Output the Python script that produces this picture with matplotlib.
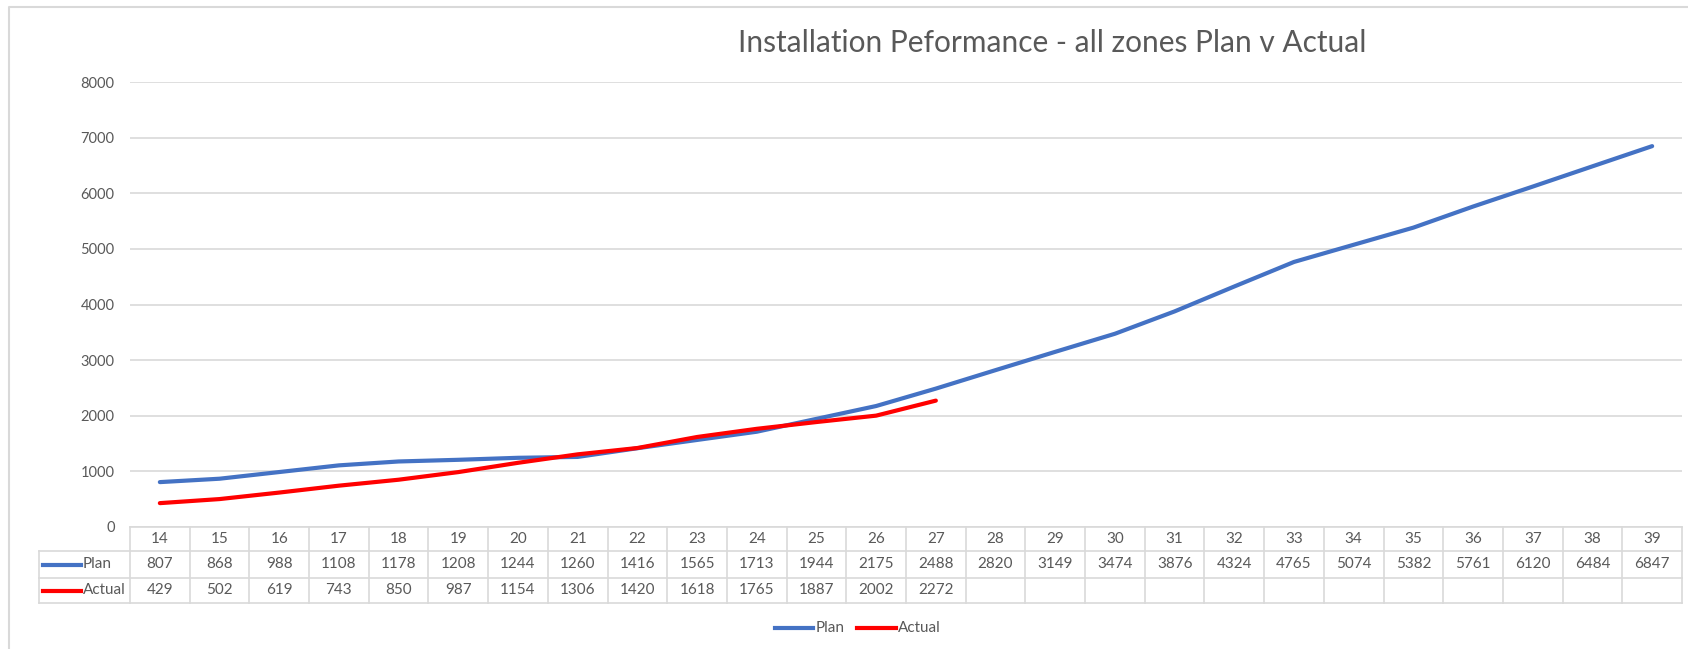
import matplotlib.pyplot as plt
import numpy as np

plt.rcParams['font.family'] = ['Lato', 'DejaVu Sans']

weeks = [14, 15, 16, 17, 18, 19, 20, 21, 22, 23, 24, 25, 26,
         27, 28, 29, 30, 31, 32, 33, 34, 35, 36, 37, 38, 39]
plan = [807, 868, 988, 1108, 1178, 1208, 1244, 1260, 1416, 1565, 1713, 1944, 2175,
        2488, 2820, 3149, 3474, 3876, 4324, 4765, 5074, 5382, 5761, 6120, 6484, 6847]
actual = [429, 502, 619, 743, 850, 987, 1154, 1306, 1420, 1618, 1765, 1887, 2002, 2272]

colPlan = '#4472C4'
colActual = '#FF0000'
textCol = '#595959'
gridCol = '#D9D9D9'

W, H = 1688, 649
fig = plt.figure(figsize=(W / 100, H / 100), dpi=100)

# chart border (only top and left edges are inside the picture)
fig.lines.append(plt.Line2D([9 / W, 9 / W, 1], [0, 1 - 7 / H, 1 - 7 / H],
                            transform=fig.transFigure, color='#D9D9D9', lw=1.5))

left, right = 130, 1682
top, bot = 82, 527
ax = fig.add_axes([left / W, (H - bot) / H, (right - left) / W, (bot - top) / H])

n = len(weeks)
x = np.arange(n)
ax.plot(x, plan, color=colPlan, lw=3, solid_capstyle='round')
ax.plot(x[:len(actual)], actual, color=colActual, lw=3, solid_capstyle='round')

ax.set_xlim(-0.5, n - 0.5)
ax.set_ylim(0, 8000)
ax.set_yticks(range(0, 8001, 1000))
ax.set_xticks([])
ax.tick_params(axis='y', length=0, labelsize=10.5, labelcolor=textCol, pad=11)
ax.grid(axis='y', color=gridCol, lw=1.2)
ax.set_axisbelow(True)
for s in ax.spines.values():
    s.set_visible(False)

fig.text(1052 / W, 1 - 43 / H, 'Installation Peformance - all zones Plan v Actual',
         fontsize=21.5, color=textCol, ha='center', va='center')

# data table below the plot
rowY = [527, 551, 578, 603]
tabTop, tabBot = rowY[0], rowY[-1]
tab = fig.add_axes([left / W, (H - tabBot) / H, (right - left) / W, (tabBot - tabTop) / H])
tab.set_xlim(-0.5, n - 0.5)
tab.set_ylim(tabBot, tabTop)
tab.axis('off')
colW = (right - left) / n
labLeft = -0.5 - (left - 39) / colW

lk = dict(color=gridCol, lw=1.2, clip_on=False)
tab.plot([-0.5, n - 0.5], [rowY[0], rowY[0]], **lk)
for yy in rowY[1:]:
    tab.plot([labLeft, n - 0.5], [yy, yy], **lk)
tab.plot([labLeft, labLeft], [rowY[1], rowY[3]], **lk)
for i in range(n + 1):
    tab.plot([i - 0.5, i - 0.5], [rowY[0], rowY[3]], **lk)

yHead = (rowY[0] + rowY[1]) / 2
yPlan = (rowY[1] + rowY[2]) / 2
yAct = (rowY[2] + rowY[3]) / 2
fs = 11
for i, w in enumerate(weeks):
    tab.text(i, yHead, str(w), ha='center', va='center', fontsize=fs, color=textCol)
    tab.text(i, yPlan, str(plan[i]), ha='center', va='center', fontsize=fs, color=textCol)
    if i < len(actual):
        tab.text(i, yAct, str(actual[i]), ha='center', va='center', fontsize=fs, color=textCol)

keyX0 = labLeft + 4 / colW
keyX1 = labLeft + 42 / colW
tab.plot([keyX0, keyX1], [yPlan, yPlan], color=colPlan, lw=3, clip_on=False)
tab.text(keyX1 + 2 / colW, yPlan, 'Plan', ha='left', va='center', fontsize=fs, color=textCol)
tab.plot([keyX0, keyX1], [yAct, yAct], color=colActual, lw=3, clip_on=False)
tab.text(keyX1 + 2 / colW, yAct, 'Actual', ha='left', va='center', fontsize=fs, color=textCol)

# legend at bottom
ly = 1 - 628 / H
fig.lines.append(plt.Line2D([775 / W, 813 / W], [ly, ly], color=colPlan, lw=3,
                            transform=fig.transFigure))
fig.text(816 / W, ly, 'Plan', ha='left', va='center', fontsize=fs, color=textCol)
fig.lines.append(plt.Line2D([857 / W, 896 / W], [ly, ly], color=colActual, lw=3,
                            transform=fig.transFigure))
fig.text(898 / W, ly, 'Actual', ha='left', va='center', fontsize=fs, color=textCol)

fig.savefig('out.png', dpi=100, facecolor='white')
